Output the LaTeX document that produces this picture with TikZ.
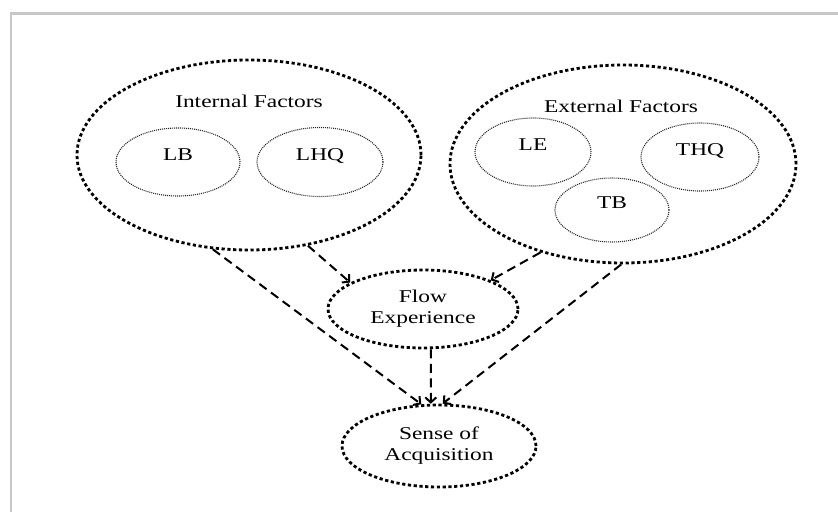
\documentclass[tikz,border=0pt]{standalone}
\usepackage{fontspec}
\setmainfont{Liberation Serif}
\usepackage{graphicx}
\usetikzlibrary{shapes.geometric, arrows.meta}
\newcommand{\wide}[1]{\scalebox{1.3}[1]{\begin{tabular}{@{}c@{}}#1\end{tabular}}}
\tikzset{bigell/.style = {ellipse, draw, line width = 2.8pt, dash pattern = on 3.2pt off 2.6pt, inner sep = 0},
         subell/.style = {ellipse, draw = black!85, line width = 1.1pt, dash pattern = on 1pt off 1pt, inner sep = 0, text depth = 18pt},
         flowarr/.style = {line width = 2pt, dash pattern = on 9pt off 5.5pt, -{Straight Barb[length = 5pt, width = 11pt]}},
         lbl/.style = {font = \fontsize{18}{21}\selectfont}}

\begin{document}
\begin{tikzpicture}[x = 1pt, y = 1pt, lbl]
    \useasboundingbox (0, 0) rectangle (838, 512);
    \draw [black!22, line width = 2.5pt] (11, 0) -- (11, 498.7) -- (838, 498.7);

    \node [bigell, minimum width = 344, minimum height = 190] (int) at (249, 357) {};
    \node (inttitle) at (249, 409) {\wide{Internal Factors}};
    \node [subell, minimum width = 124, minimum height = 68] (lb) at (178, 350) {\wide{LB}};
    \node [subell, minimum width = 126, minimum height = 69] (lhq) at (320, 350) {\wide{LHQ}};

    \node [bigell, minimum width = 346, minimum height = 198] (ext) at (623, 348) {};
    \node (exttitle) at (621, 404) {\wide{External Factors}};
    \node [subell, minimum width = 116, minimum height = 68] (le) at (533, 360) {\wide{LE}};
    \node [subell, minimum width = 118, minimum height = 68] (thq) at (700, 355) {\wide{THQ}};
    \node [subell, minimum width = 114, minimum height = 64] (tb) at (612, 302) {\wide{TB}};

    \node [bigell, minimum width = 190, minimum height = 78] (flow) at (423, 203) {\wide{Flow\\Experience}};
    \node [bigell, minimum width = 194, minimum height = 82] (sense) at (439, 66) {\wide{Sense of\\Acquisition}};

    \draw [flowarr] (int.-57) -- (flow.160);
    \draw [flowarr] (int.-111) -- (sense.113);
    \draw [flowarr] (ext.-133) -- (flow.23);
    \draw [flowarr] (ext.-91) -- (sense.85);
    \draw [flowarr] (flow.-79) -- (sense.101);
\end{tikzpicture}
\end{document}
